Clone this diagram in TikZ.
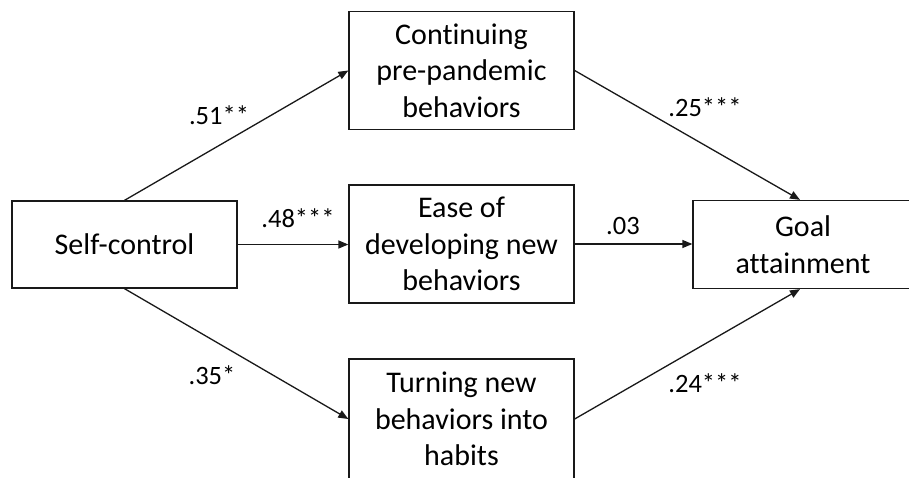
\documentclass[tikz,border=0pt]{standalone}
\usepackage{fontspec}
\setmainfont[Ligatures=NoCommon]{Carlito}
\usetikzlibrary{arrows.meta,calc}
\begin{document}
\begin{tikzpicture}[x=1pt,y=-1pt,
  box/.style={draw=black!90, line width=1.3pt, rectangle, inner sep=0pt, align=center,
    font=\fontsize{30}{36.6}\selectfont, text=black},
  conn/.style={draw=black!90, line width=1.3pt, -{Triangle[length=10pt,width=8pt]}},
  coef/.style={font=\fontsize{26.5}{30}\selectfont, inner sep=0pt, text=black}]
\useasboundingbox (0,0) rectangle (909,478);
\fill[white] (0,0) rectangle (909,478);
\begin{scope}
\clip (0,0) rectangle (909,478);
\node[box, minimum width=225pt, minimum height=87pt] (sc) at (124.5,244.5) {Self-control};
\node[box, minimum width=225pt, minimum height=117.6pt] (cont) at (461.5,70.5) {Continuing\\pre-pandemic\\behaviors};
\node[box, minimum width=225pt, minimum height=118pt] (ease) at (461.5,244) {Ease of\\developing new\\behaviors};
\node[box, minimum width=225pt, minimum height=121pt] (turn) at (461.5,419.5) {};
\node[font=\fontsize{30}{36.6}\selectfont, text=black, align=center, inner sep=0pt] (turntext) at (461.5,419) {Turning new\\behaviors into\\habits};
\node[box, minimum width=220pt, minimum height=88pt] (goal) at (803,244.5) {Goal\\attainment};
\end{scope}

\draw[conn] (sc.north) -- (cont.west);
\draw[conn] (sc.east) -- (sc.east -| ease.west);
\draw[conn] (sc.south) -- (turn.west |- turntext.center);
\draw[conn] (cont.east) -- ([xshift=-3pt]goal.north);
\draw[conn] (ease.east) -- (ease.east -| goal.west);
\draw[conn] (turn.east |- turntext.center) -- ([xshift=-3pt]goal.south);

\node[coef] (c1) at (219,115) {.51**};
\node[coef] (c2) at (298,218) {.48***};
\node[coef] (c3) at (212,375) {.35*};
\node[coef] (c4) at (705,107) {.25***};
\node[coef] (c5) at (623,226) {.03};
\node[coef] (c6) at (705,383) {.24***};
\end{tikzpicture}
\end{document}
